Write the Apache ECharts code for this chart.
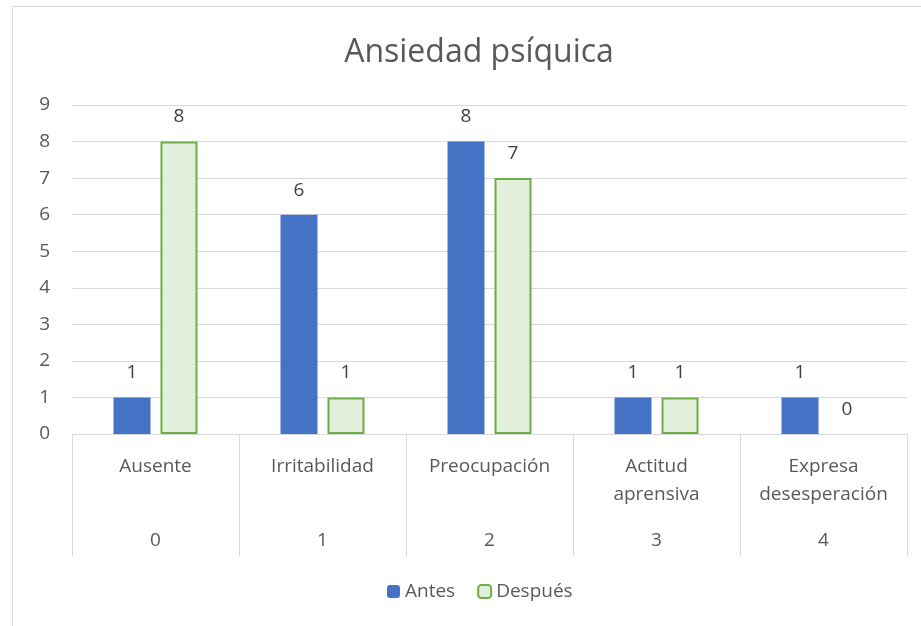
<!DOCTYPE html>
<html>
<head>
<meta charset="utf-8">
<script src="https://cdn.jsdelivr.net/npm/echarts@6/dist/echarts.min.js"></script>
<style>
  html, body { margin: 0; padding: 0; background: #fff; }
  #chart { width: 921px; height: 626px; }
</style>
</head>
<body>
<div id="chart"></div>
<script>
// chart data
var categories = ['Ausente', 'Irritabilidad', 'Preocupación', 'Actitud\naprensiva', 'Expresa\ndesesperación'];
var codes = ['0', '1', '2', '3', '4'];
var antes = [1, 6, 8, 1, 1];
var despues = [8, 1, 7, 1, 0];

var FONT = '"Open Sans", "Noto Sans", sans-serif';
var TEXT = '#595959';
var GRID = '#d9d9d9';

function renderChart() {
  var myChart = echarts.init(document.getElementById('chart'));
  // zero-height bars get no outline, like the original
  var despuesData = despues.map(function (v) {
    return v === 0 ? { value: v, itemStyle: { borderWidth: 0 } } : v;
  });
  var option = {
    textStyle: { fontFamily: FONT },
    title: {
      text: 'Ansiedad psíquica',
      left: 474,
      textAlign: 'center',
      top: 32,
      textStyle: { fontFamily: FONT, fontSize: 32, fontWeight: 'normal', color: TEXT }
    },
    graphic: [{
      type: 'rect',
      shape: { x: 12.5, y: 6.5, width: 1000, height: 1000 },
      style: { fill: 'none', stroke: GRID, lineWidth: 1 },
      silent: true
    }],
    legend: {
      bottom: 20,
      left: 382,
      itemWidth: 13,
      itemHeight: 13,
      itemGap: 22,
      textStyle: { fontFamily: FONT, fontSize: 19, color: TEXT },
      data: ['Antes', 'Después']
    },
    grid: { left: 72, right: 14, top: 105, bottom: 192 },
    xAxis: [{
      type: 'category',
      data: categories,
      axisLine: { lineStyle: { color: GRID } },
      axisTick: { show: true, length: 122, lineStyle: { color: GRID } },
      axisLabel: {
        interval: 0,
        margin: 19,
        verticalAlign: 'top',
        lineHeight: 28,
        fontFamily: FONT,
        fontSize: 19,
        color: TEXT
      }
    }, {
      type: 'category',
      position: 'bottom',
      data: codes,
      axisLine: { show: false },
      axisTick: { show: false },
      axisLabel: {
        interval: 0,
        margin: 97,
        verticalAlign: 'top',
        lineHeight: 20,
        fontFamily: FONT,
        fontSize: 19,
        color: TEXT
      }
    }],
    yAxis: {
      type: 'value',
      min: 0,
      max: 9,
      interval: 1,
      axisLine: { show: false },
      axisTick: { show: false },
      splitLine: { lineStyle: { color: GRID } },
      axisLabel: { margin: 22, fontFamily: FONT, fontSize: 19, color: TEXT }
    },
    series: [{
      name: 'Antes',
      type: 'bar',
      data: antes,
      barWidth: 37,
      barGap: '27%',
      itemStyle: { color: '#4472C4' },
      label: { show: true, position: 'top', distance: 15, fontFamily: FONT, fontSize: 19, color: '#404040' }
    }, {
      name: 'Después',
      type: 'bar',
      data: despuesData,
      barWidth: 37,
      itemStyle: { color: '#E2EFDA', borderColor: '#70AD47', borderWidth: 2 },
      label: { show: true, position: 'top', distance: 15, fontFamily: FONT, fontSize: 19, color: '#404040' }
    }]
  };
  myChart.setOption(option);
}

window.onload = renderChart;
</script>
</body>
</html>
